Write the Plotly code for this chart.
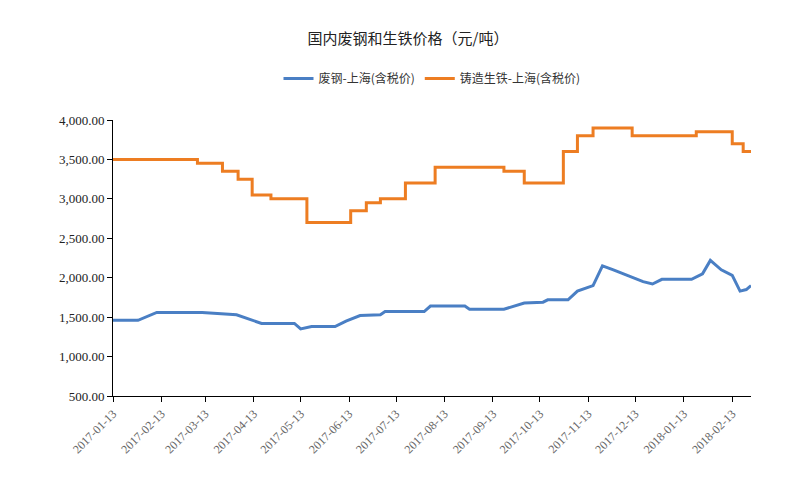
import plotly.graph_objects as go

# 废钢-上海(含税价)
scrap_dates = ['2017-01-13', '2017-01-29', '2017-02-10', '2017-03-11', '2017-04-02', '2017-04-08',
               '2017-04-18', '2017-05-09', '2017-05-13', '2017-05-20', '2017-06-04', '2017-06-11',
               '2017-06-20', '2017-07-03', '2017-07-06', '2017-07-31', '2017-08-04', '2017-08-26',
               '2017-08-29', '2017-09-20', '2017-09-26', '2017-10-03', '2017-10-15', '2017-10-18',
               '2017-10-31', '2017-11-06', '2017-11-16', '2017-11-22', '2017-11-29', '2017-12-05',
               '2017-12-18', '2017-12-24', '2017-12-30', '2018-01-18', '2018-01-25', '2018-01-30',
               '2018-02-06', '2018-02-13', '2018-02-18', '2018-02-22', '2018-02-25']
scrap_vals = [1460, 1460, 1560, 1560, 1530, 1490, 1420, 1420, 1350, 1380, 1380, 1450,
              1520, 1530, 1570, 1570, 1640, 1640, 1600, 1600, 1640, 1680, 1690, 1720,
              1720, 1830, 1900, 2150, 2100, 2050, 1950, 1920, 1980, 1980, 2050, 2220,
              2100, 2030, 1830, 1850, 1900]

# 铸造生铁-上海(含税价)
iron_dates = ['2017-01-13', '2017-03-08', '2017-03-24', '2017-04-03', '2017-04-12', '2017-04-24',
              '2017-05-17', '2017-06-14', '2017-06-24', '2017-07-03', '2017-07-19', '2017-08-07',
              '2017-09-20', '2017-10-03', '2017-10-28', '2017-11-06', '2017-11-16', '2017-12-11',
              '2018-01-21', '2018-02-13', '2018-02-20', '2018-02-25']
iron_vals = [3500, 3450, 3350, 3250, 3050, 3000, 2700, 2850, 2950, 3000, 3200, 3400,
             3350, 3200, 3600, 3800, 3900, 3800, 3850, 3700, 3600, 3600]

fig = go.Figure()
fig.add_trace(go.Scatter(x=scrap_dates, y=scrap_vals, mode='lines', name='废钢-上海(含税价)',
                         line=dict(color='#4a7fc4', width=3)))
fig.add_trace(go.Scatter(x=iron_dates, y=iron_vals, mode='lines', name='铸造生铁-上海(含税价)',
                         line=dict(color='#ed7d22', width=3, shape='hv')))

fig.update_layout(
    width=800, height=500,
    paper_bgcolor='white', plot_bgcolor='white',
    margin=dict(l=105, r=57, t=112, b=112),
    font=dict(family='Noto Sans CJK SC', color='#333'),
    title=dict(text='国内废钢和生铁价格（元/吨）', x=0.5, y=0.95, xanchor='center',
               font=dict(size=15, color='#222')),
    legend=dict(orientation='h', x=0.5, xanchor='center', y=1.15, yanchor='middle',
                font=dict(size=12)),
    showlegend=True,
)
fig.update_xaxes(type='date', range=['2017-01-13', '2018-02-25'], tick0='2017-01-13', dtick='M1',
                 tickformat='%Y-%m-%d', tickangle=-45, showgrid=False, showline=True,
                 linecolor='black', ticks='outside', tickcolor='black',
                 tickfont=dict(family='Liberation Serif', size=12, color='#666'))
fig.update_yaxes(range=[500, 4000], dtick=500, tickformat=',.2f', showgrid=False, showline=True,
                 linecolor='black', ticks='outside', tickcolor='black',
                 tickfont=dict(family='Liberation Serif', size=13, color='#222'))

fig.write_html("out.html")
